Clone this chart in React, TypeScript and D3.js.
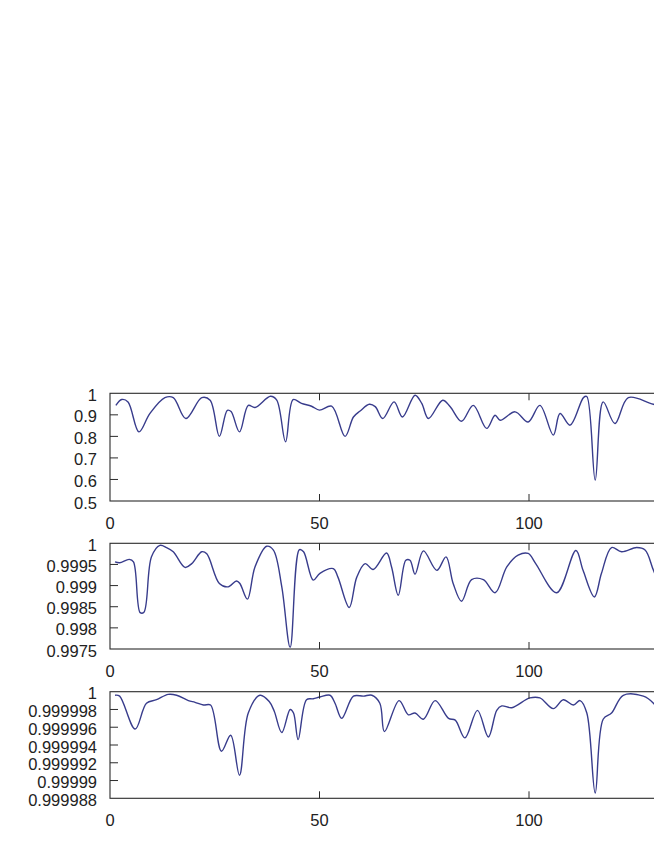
import React from "react";
import * as d3 from "d3";

// ---- data ----
const xs1 = [1.4, 2.8, 4.3, 6.9, 9.5, 13.1, 15.1, 18.1, 21.9, 23.9, 26.1, 28.0, 28.9, 30.9, 33.0, 34.6, 38.3, 39.8, 41.9, 43.7, 45.7, 48.1, 50.0, 52.9, 56.1, 58.1, 59.7, 61.9, 63.3, 65.1, 67.8, 69.8, 72.8, 74.4, 76.0, 79.4, 81.2, 83.9, 86.7, 89.9, 91.9, 93.1, 96.7, 99.8, 102.6, 105.8, 107.4, 109.8, 113.0, 113.8, 115.8, 117.7, 120.5, 123.7, 129.7, 135];
const ys1 = [0.944, 0.971, 0.96, 0.821, 0.906, 0.98, 0.98, 0.883, 0.98, 0.968, 0.80, 0.921, 0.915, 0.821, 0.944, 0.934, 0.986, 0.968, 0.775, 0.971, 0.953, 0.94, 0.922, 0.94, 0.80, 0.89, 0.918, 0.949, 0.938, 0.883, 0.96, 0.89, 0.991, 0.953, 0.883, 0.968, 0.938, 0.87, 0.944, 0.837, 0.898, 0.875, 0.914, 0.867, 0.944, 0.806, 0.906, 0.852, 0.98, 0.985, 0.597, 0.96, 0.86, 0.98, 0.949, 0.93];

const xs2 = [1.2, 2.3, 4.6, 5.6, 7.2, 8.1, 9.9, 11.9, 13.5, 15.1, 17.9, 19.5, 21.9, 23.1, 26.1, 28.2, 30.2, 31.0, 32.8, 34.6, 37.4, 39.0, 41.0, 43.0, 45.2, 46.2, 48.5, 50.1, 53.3, 54.4, 57.1, 58.9, 60.9, 62.8, 66.0, 67.2, 68.8, 70.6, 71.6, 72.8, 74.8, 78.0, 80.2, 81.9, 83.9, 86.3, 89.1, 91.9, 94.7, 97.4, 99.8, 101.6, 106.6, 111.2, 112.9, 115.6, 117.3, 119.7, 122.1, 125.7, 127.7, 129.7, 132];
const ys2 = [0.99956, 0.99954, 0.99962, 0.99956, 0.99836, 0.99837, 0.99968, 0.99995, 0.9999, 0.9998, 0.99943, 0.99952, 0.9998, 0.99975, 0.99905, 0.99897, 0.99911, 0.99905, 0.99868, 0.99944, 0.99993, 0.99984, 0.99897, 0.99754, 0.99985, 0.9998, 0.99913, 0.99929, 0.9994, 0.9992, 0.99848, 0.9992, 0.99952, 0.99938, 0.99977, 0.99944, 0.99877, 0.9996, 0.9996, 0.99927, 0.99982, 0.99936, 0.99968, 0.99905, 0.99863, 0.99914, 0.99914, 0.99883, 0.99944, 0.99972, 0.99976, 0.99952, 0.99883, 0.99983, 0.99936, 0.99873, 0.99929, 0.9999, 0.9998, 0.9999, 0.99984, 0.99936, 0.9988];

const xs3 = [1.2, 2.3, 6.0, 8.7, 11.1, 13.9, 15.9, 18.7, 20.3, 22.3, 24.0, 26.6, 28.8, 30.9, 33.0, 35.8, 38.0, 39.2, 41.0, 43.0, 43.8, 44.9, 46.9, 48.5, 50.1, 52.5, 53.7, 55.3, 58.1, 60.5, 62.5, 64.4, 65.5, 69.0, 71.2, 72.8, 74.8, 77.6, 80.8, 82.4, 84.7, 87.7, 90.3, 92.3, 93.5, 95.9, 100.2, 102.6, 105.8, 108.2, 110.6, 112.2, 113.8, 115.8, 117.7, 119.7, 122.5, 127.3, 129.7, 132];
const ys3 = [0.9999996, 0.9999995, 0.9999958, 0.9999987, 0.9999991, 0.9999997, 0.9999996, 0.999999, 0.9999988, 0.9999985, 0.9999985, 0.9999933, 0.9999951, 0.9999906, 0.9999976, 0.9999996, 0.9999989, 0.9999978, 0.9999954, 0.999998, 0.9999976, 0.9999946, 0.9999991, 0.9999992, 0.9999994, 0.9999996, 0.9999987, 0.999997, 0.9999995, 0.9999995, 0.9999996, 0.9999987, 0.9999955, 0.999999, 0.9999974, 0.9999976, 0.9999969, 0.999999, 0.999997, 0.9999968, 0.9999948, 0.9999979, 0.9999949, 0.9999979, 0.9999984, 0.9999982, 0.9999993, 0.9999993, 0.9999981, 0.9999991, 0.9999985, 0.999999, 0.9999976, 0.9999886, 0.9999969, 0.9999976, 0.9999996, 0.9999995, 0.9999987, 0.999997];

const xTicks = [0, 50, 100];
const xTickLabels = ["0", "50", "100"];

const yTicks1 = [0.5, 0.6, 0.7, 0.8, 0.9, 1];
const yLabels1 = ["0.5", "0.6", "0.7", "0.8", "0.9", "1"];
const yTicks2 = [0.9975, 0.998, 0.9985, 0.999, 0.9995, 1];
const yLabels2 = ["0.9975", "0.998", "0.9985", "0.999", "0.9995", "1"];
const yTicks3 = [0.999988, 0.99999, 0.999992, 0.999994, 0.999996, 0.999998, 1];
const yLabels3 = ["0.999988", "0.99999", "0.999992", "0.999994", "0.999996", "0.999998", "1"];

const panels = [
  { xs: xs1, ys: ys1, yTicks: yTicks1, yLabels: yLabels1, top: 393.3, bottom: 501 },
  { xs: xs2, ys: ys2, yTicks: yTicks2, yLabels: yLabels2, top: 543.3, bottom: 649 },
  { xs: xs3, ys: ys3, yTicks: yTicks3, yLabels: yLabels3, top: 691.7, bottom: 798.3 },
];

const LEFT = 110;
const PXU = 4.19;
const XMAX = 150;
const FONT = "'Liberation Sans', Arial, sans-serif";

export default function App() {
  const x = d3.scaleLinear().domain([0, XMAX]).range([LEFT, LEFT + XMAX * PXU]);
  const right = x(XMAX);
  return (
    <svg width={654} height={846} style={{ position: "absolute", left: 0, top: 0, background: "#fff" }}>
      {panels.map((p, i) => {
        const y = d3
          .scaleLinear()
          .domain([p.yTicks[0], p.yTicks[p.yTicks.length - 1]])
          .range([p.bottom, p.top]);
        const pts = p.xs.map((v, k) => [v, p.ys[k]] as [number, number]);
        const line = d3
          .line<[number, number]>()
          .x((d) => x(d[0]))
          .y((d) => y(d[1]))
          .curve(d3.curveCatmullRom.alpha(0.5));
        return (
          <g key={i}>
            <path d={line(pts) || ""} fill="none" stroke="#383c8c" strokeWidth={1.4} />
            <rect x={LEFT} y={p.top} width={right - LEFT} height={p.bottom - p.top} fill="none" stroke="#2b2b2b" strokeWidth={1.1} />
            {p.yTicks.map((t, k) => (
              <g key={"y" + k}>
                {k > 0 && k < p.yTicks.length - 1 && (
                  <line x1={LEFT} x2={LEFT + 8} y1={y(t)} y2={y(t)} stroke="#2b2b2b" strokeWidth={1} />
                )}
                <text x={97} y={y(t) + 7.5} textAnchor="end" fontFamily={FONT} fontSize={16.5} fill="#222">
                  {p.yLabels[k]}
                </text>
              </g>
            ))}
            {xTicks.map((t, k) => (
              <g key={"x" + k}>
                {k > 0 && (
                  <>
                    <line x1={x(t)} x2={x(t)} y1={p.bottom} y2={p.bottom - 7} stroke="#2b2b2b" strokeWidth={1} />
                    <line x1={x(t)} x2={x(t)} y1={p.top} y2={p.top + 7} stroke="#2b2b2b" strokeWidth={1} />
                  </>
                )}
                <text x={x(t)} y={p.bottom + 28} textAnchor="middle" fontFamily={FONT} fontSize={16.5} fill="#222">
                  {xTickLabels[k]}
                </text>
              </g>
            ))}
          </g>
        );
      })}
    </svg>
  );
}
